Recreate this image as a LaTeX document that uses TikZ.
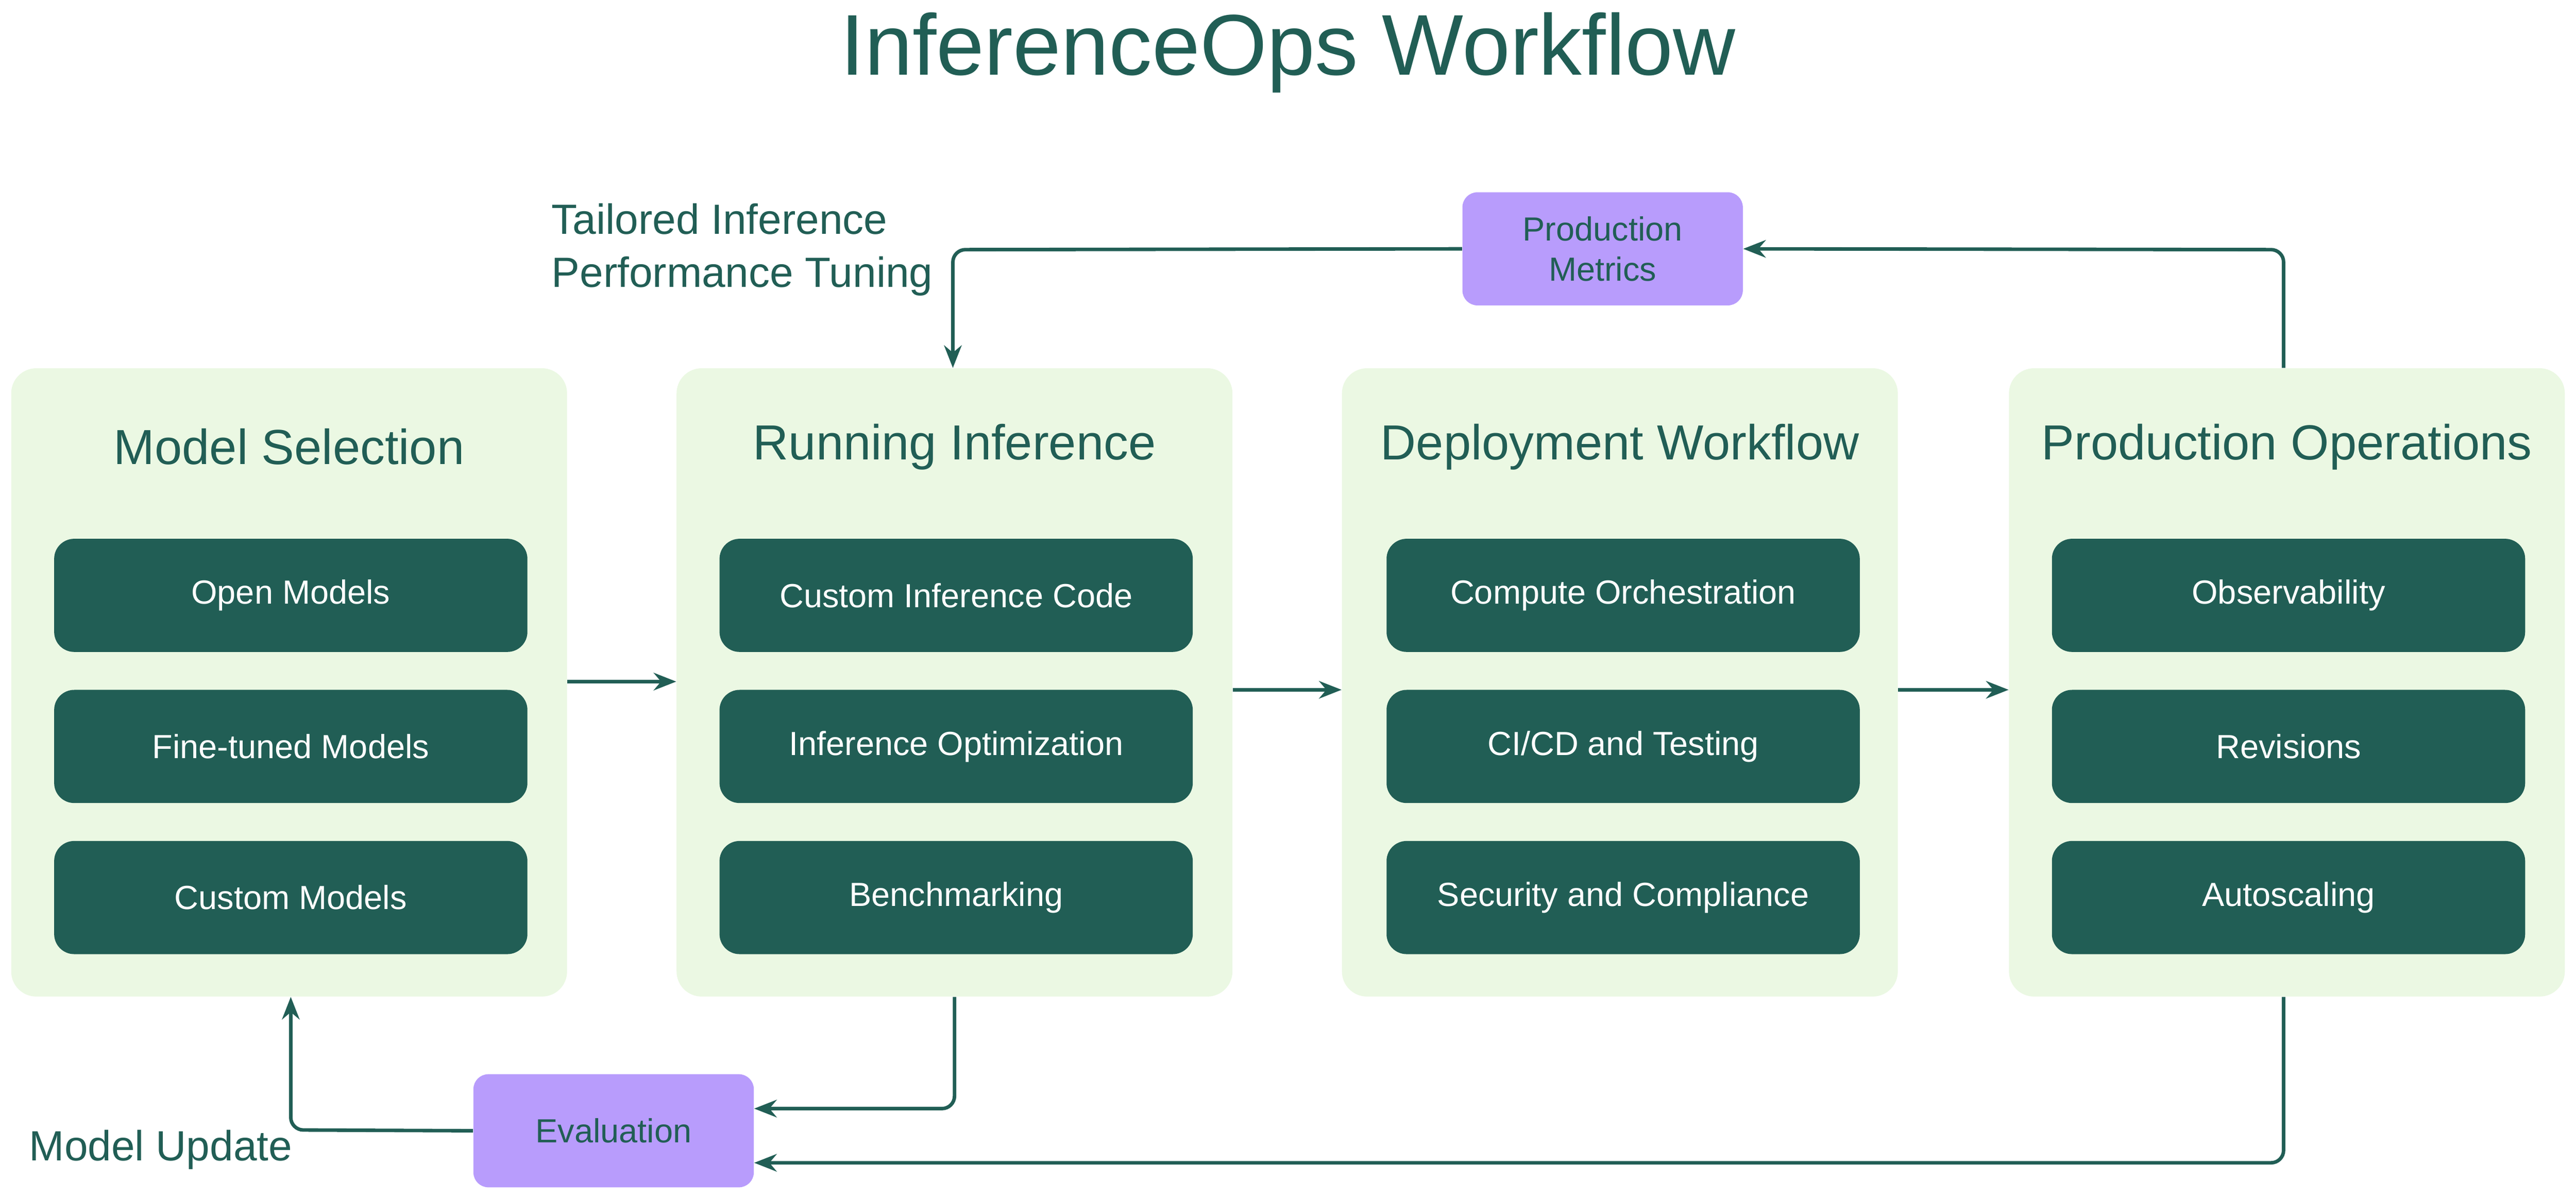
\documentclass[tikz,border=0pt]{standalone}
\usepackage{fontspec}
\setmainfont{Liberation Sans}
\usetikzlibrary{arrows.meta}
\usetikzlibrary{positioning}
\definecolor{dkgreen}{HTML}{215E55}
\definecolor{ltgreen}{HTML}{EBF8E3}
\definecolor{lilac}{HTML}{B89CFC}
\tikzset{panel/.style={rounded corners=0.5cm,fill=ltgreen,minimum width=11.1cm,minimum height=12.55cm,inner sep=0pt}}
\tikzset{item/.style={rounded corners=0.4cm,fill=dkgreen,text=white,minimum width=9.45cm,minimum height=2.26cm,font=\fontsize{19}{23}\selectfont}}
\tikzset{ptitle/.style={text=dkgreen,font=\fontsize{28}{34}\selectfont}}
\tikzset{feed/.style={rounded corners=0.3cm,fill=lilac,text=dkgreen,minimum width=5.6cm,minimum height=2.26cm,align=center,font=\fontsize{19}{23}\selectfont}}
\tikzset{flow/.style={draw=dkgreen,line width=2pt,-{Stealth[length=0.45cm,width=0.35cm]},rounded corners=0.25cm}}
\tikzset{note/.style={text=dkgreen,font=\fontsize{24}{30}\selectfont,align=left}}

\begin{document}
\begin{tikzpicture}[x=0.0328cm,y=-0.0328cm]
\useasboundingbox (0,0) rectangle (1568,730);

\node[text=dkgreen,font=\fontsize{49}{60}\selectfont] (title) at (784,32) {InferenceOps Workflow};

% panels
\foreach \n/\x/\t in {P1/176/Model Selection,P2/581/Running Inference,P3/986/Deployment Workflow,P4/1392/Production Operations} {
	\node[panel] (\n) at (\x,415.5) {};
	\node[ptitle] (\n t) at (\x,272) {\t};
}

% items
\foreach \n/\x in {P1/177,P2/582,P3/988,P4/1393} {
	\coordinate (\n c) at (\x,0);
}
\foreach \n/\a/\b/\c in {P1/Open Models/Fine-tuned Models/Custom Models,
	P2/Custom Inference Code/Inference Optimization/Benchmarking,
	P3/Compute Orchestration/{CI/CD and Testing}/Security and Compliance,
	P4/Observability/Revisions/Autoscaling} {
	\node[item] (\n a) at (\n c |- 0,362.5) {\a};
	\node[item] (\n b) at (\n c |- 0,454.5) {\b};
	\node[item] (\n d) at (\n c |- 0,546.5) {\c};
}

% forward arrows
\draw[flow] (P1.east |- 0,415) -- (P2.west |- 0,415);
\draw[flow] (P2.east |- 0,420) -- (P3.west |- 0,420);
\draw[flow] (P3.east |- 0,420) -- (P4.west |- 0,420);

% feedback loops
\node[feed] (PM) at (975.5,151.5) {Production\\Metrics};
\node[feed] (EV) at (373.5,688.5) {Evaluation};

\draw[flow] (P4.north -| 1390,0) -- (1390,152) -- (PM.east);
\draw[flow] (PM.west) -- (580,152) -- (P2.north -| 580,0);
\node[note,anchor=west] (tune) at (332,152) {Tailored Inference\\Performance Tuning};

\draw[flow] (P2.south -| 581,0) -- (581,675) -- (EV.east |- 0,675);
\draw[flow] (P4.south -| 1390,0) -- (1390,708) -- (EV.east |- 0,708);
\draw[flow] (EV.west) -- (177,688) -- (P1.south -| 177,0);
\node[note,anchor=west] (upd) at (14,700) {Model Update};

\end{tikzpicture}
\end{document}
